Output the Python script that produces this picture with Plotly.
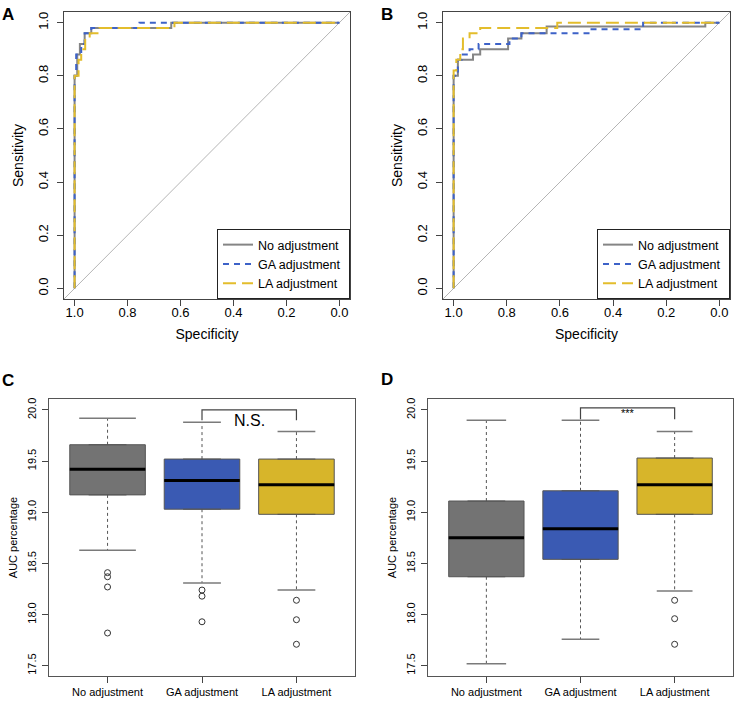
import plotly.graph_objects as go

FONT = "Liberation Sans, Arial, sans-serif"
W, H = 735, 701

methods = ["No adjustment", "GA adjustment", "LA adjustment"]

# ROC curve corners, panel A (specificity, sensitivity)
a_none_spec = [1.0, 1.0, 0.99, 0.99, 0.98, 0.98, 0.962, 0.962, 0.937, 0.937, 0.635, 0.635, 0.0]
a_none_sens = [0.0, 0.80, 0.80, 0.88, 0.88, 0.92, 0.92, 0.96, 0.96, 0.98, 0.98, 1.0, 1.0]
a_ga_spec = [1.0, 1.0, 0.994, 0.994, 0.975, 0.975, 0.962, 0.962, 0.937, 0.937, 0.755, 0.755, 0.0]
a_ga_sens = [0.0, 0.80, 0.80, 0.88, 0.88, 0.92, 0.92, 0.96, 0.96, 0.98, 0.98, 1.0, 1.0]
a_la_spec = [1.0, 1.0, 0.985, 0.985, 0.975, 0.975, 0.96, 0.96, 0.943, 0.943, 0.906, 0.906, 0.623, 0.623, 0.0]
a_la_sens = [0.0, 0.80, 0.80, 0.86, 0.86, 0.90, 0.90, 0.94, 0.94, 0.96, 0.96, 0.98, 0.98, 1.0, 1.0]

# ROC curve corners, panel B
b_none_spec = [1.0, 1.0, 0.984, 0.984, 0.927, 0.927, 0.90, 0.90, 0.795, 0.795, 0.745, 0.745, 0.65, 0.65, 0.053, 0.053, 0.0]
b_none_sens = [0.0, 0.80, 0.80, 0.86, 0.86, 0.88, 0.88, 0.90, 0.90, 0.94, 0.94, 0.96, 0.96, 0.985, 0.985, 1.0, 1.0]
b_ga_spec = [1.0, 1.0, 0.984, 0.984, 0.97, 0.97, 0.94, 0.94, 0.906, 0.906, 0.79, 0.79, 0.745, 0.745, 0.487, 0.487, 0.287, 0.287, 0.0]
b_ga_sens = [0.0, 0.80, 0.80, 0.86, 0.86, 0.88, 0.88, 0.90, 0.90, 0.92, 0.92, 0.94, 0.94, 0.96, 0.96, 0.975, 0.975, 1.0, 1.0]
b_la_spec = [1.0, 1.0, 0.99, 0.99, 0.975, 0.975, 0.965, 0.965, 0.94, 0.94, 0.90, 0.90, 0.61, 0.61, 0.0]
b_la_sens = [0.0, 0.82, 0.82, 0.86, 0.86, 0.90, 0.90, 0.94, 0.94, 0.96, 0.96, 0.98, 0.98, 1.0, 1.0]

roc_ticks = [0.0, 0.2, 0.4, 0.6, 0.8, 1.0]

# AUC percentage boxplots, panel C
c_q1 = [19.17, 19.03, 18.98]
c_med = [19.42, 19.31, 19.27]
c_q3 = [19.66, 19.52, 19.52]
c_lo = [18.63, 18.31, 18.24]
c_hi = [19.92, 19.88, 19.79]
c_out = [[18.41, 18.37, 18.27, 17.82], [18.24, 18.18, 17.93], [18.14, 17.95, 17.71]]

# panel D
d_q1 = [18.37, 18.54, 18.98]
d_med = [18.75, 18.84, 19.27]
d_q3 = [19.11, 19.21, 19.53]
d_lo = [17.52, 17.76, 18.23]
d_hi = [19.90, 19.90, 19.79]
d_out = [[], [], [18.14, 17.96, 17.71]]

auc_ticks = [17.5, 18.0, 18.5, 19.0, 19.5, 20.0]

roc_colors = ["#858585", "#3d62c8", "#e3bd2c"]
roc_dash = ["solid", "6px,5px", "13px,6px"]
box_colors = ["#737373", "#3a5ab3", "#d7b52a"]


def px_dom(a, b, total):
    return [a / total, b / total]


def py_dom(top, bottom):
    return [1 - bottom / H, 1 - top / H]


fig = go.Figure()

# ---- ROC panels ----
roc_sets = [
    ("x", "y", "legend", [(a_none_spec, a_none_sens), (a_ga_spec, a_ga_sens), (a_la_spec, a_la_sens)]),
    ("x2", "y2", "legend2", [(b_none_spec, b_none_sens), (b_ga_spec, b_ga_sens), (b_la_spec, b_la_sens)]),
]
for xa, ya, lg, curves in roc_sets:
    # chance diagonal
    fig.add_trace(go.Scatter(x=[1.04, -0.04], y=[-0.04, 1.04], mode="lines",
                             line=dict(color="#b5b5b5", width=1), xaxis=xa, yaxis=ya,
                             showlegend=False, hoverinfo="skip"))
    for i, (spec, sens) in enumerate(curves):
        # trailing nbsp gives the legend box a little right padding
        fig.add_trace(go.Scatter(x=spec, y=sens, mode="lines", name=methods[i] + "\u00a0",
                                 line=dict(color=roc_colors[i], width=2, dash=roc_dash[i]),
                                 xaxis=xa, yaxis=ya, legend=lg))


# ---- boxplot panels ----
def add_boxes(xa, ya, q1, med, q3, lo, hi, out, staple):
    for i in range(len(methods)):
        p = i + 1
        fig.add_trace(go.Box(x=[p], q1=[q1[i]], median=[med[i]], q3=[q3[i]],
                             lowerfence=[q1[i]], upperfence=[q3[i]], width=0.8,
                             fillcolor=box_colors[i], line=dict(color="#555555", width=1),
                             boxpoints=False, xaxis=xa, yaxis=ya, showlegend=False,
                             hoverinfo="skip"))
        fig.add_trace(go.Scatter(x=[p, p, None, p, p], y=[q3[i], hi[i], None, q1[i], lo[i]],
                                 mode="lines", line=dict(color="#555555", width=1, dash="3px,3px"),
                                 xaxis=xa, yaxis=ya, showlegend=False, hoverinfo="skip"))
        s = staple[i]
        fig.add_trace(go.Scatter(x=[p - s, p + s, None, p - s, p + s],
                                 y=[hi[i], hi[i], None, lo[i], lo[i]],
                                 mode="lines", line=dict(color="#7a7a7a", width=1.5),
                                 xaxis=xa, yaxis=ya, showlegend=False, hoverinfo="skip"))
        fig.add_trace(go.Scatter(x=[p - 0.4, p + 0.4], y=[med[i], med[i]], mode="lines",
                                 line=dict(color="black", width=3),
                                 xaxis=xa, yaxis=ya, showlegend=False, hoverinfo="skip"))
        if out[i]:
            fig.add_trace(go.Scatter(x=[p] * len(out[i]), y=out[i], mode="markers",
                                     marker=dict(symbol="circle-open", size=6, color="#333333",
                                                 line=dict(width=1)),
                                     xaxis=xa, yaxis=ya, showlegend=False, hoverinfo="skip"))


add_boxes("x3", "y3", c_q1, c_med, c_q3, c_lo, c_hi, c_out, [0.3, 0.2, 0.2])
add_boxes("x4", "y4", d_q1, d_med, d_q3, d_lo, d_hi, d_out, [0.21, 0.2, 0.19])

# significance brackets between GA and LA
c_bracket_y, c_bracket_end = 20.0, 19.9
d_bracket_y, d_bracket_end = 20.02, 19.91
fig.add_trace(go.Scatter(x=[2, 2, 3, 3], y=[c_bracket_end, c_bracket_y, c_bracket_y, c_bracket_end],
                         mode="lines", line=dict(color="#444444", width=1.2),
                         xaxis="x3", yaxis="y3", showlegend=False, hoverinfo="skip"))
fig.add_trace(go.Scatter(x=[2, 2, 3, 3], y=[d_bracket_end, d_bracket_y, d_bracket_y, d_bracket_end],
                         mode="lines", line=dict(color="#444444", width=1.2),
                         xaxis="x4", yaxis="y4", showlegend=False, hoverinfo="skip"))

axis_common = dict(showline=True, mirror=True, linecolor="#444444", linewidth=1,
                   ticks="outside", ticklen=6, tickcolor="#444444", showgrid=False,
                   zeroline=False, automargin=False)

roc_x = dict(axis_common, range=[1.04, -0.04], tickvals=roc_ticks,
             ticktext=[f"{t:.1f}" for t in roc_ticks], tickfont=dict(size=13),
             ticklabelstandoff=-5,
             title=dict(text="Specificity", font=dict(size=14), standoff=10))
roc_y = dict(axis_common, range=[-0.04, 1.04], tickvals=roc_ticks,
             ticktext=[f"{t:.1f}" for t in roc_ticks], tickfont=dict(size=13), tickangle=-90,
             ticklabelstandoff=4,
             title=dict(text="Sensitivity", font=dict(size=14), standoff=8))
box_x = dict(axis_common, range=[0.38, 3.62], tickvals=[1, 2, 3], ticktext=methods,
             tickfont=dict(size=11), linecolor="#555555")
box_y = dict(axis_common, range=[17.4, 20.107], tickvals=auc_ticks,
             ticktext=[f"{t:.1f}" for t in auc_ticks], tickfont=dict(size=11), tickangle=-90,
             linecolor="#555555", ticklabelstandoff=2,
             title=dict(text="AUC percentage", font=dict(size=11), standoff=5))

legend_style = dict(bgcolor="white", bordercolor="#222222", borderwidth=1,
                    font=dict(size=12.5, family=FONT, color="black"),
                    xanchor="right", yanchor="bottom", tracegroupgap=0)

fig.update_layout(
    width=W, height=H,
    margin=dict(l=0, r=0, t=0, b=0),
    paper_bgcolor="white", plot_bgcolor="white",
    font=dict(family=FONT, color="black"),
    xaxis=dict(roc_x, domain=px_dom(64, 350, W), anchor="y"),
    yaxis=dict(roc_y, domain=py_dom(12, 299), anchor="x"),
    xaxis2=dict(roc_x, domain=px_dom(443, 730, W), anchor="y2"),
    yaxis2=dict(roc_y, domain=py_dom(12, 299), anchor="x2"),
    xaxis3=dict(box_x, domain=px_dom(49, 355, W), anchor="y3"),
    yaxis3=dict(box_y, domain=py_dom(399, 676), anchor="x3"),
    xaxis4=dict(box_x, domain=px_dom(428, 733, W), anchor="y4"),
    yaxis4=dict(box_y, domain=py_dom(399, 676), anchor="x4"),
    legend=dict(legend_style, x=350 / W, y=1 - 299 / H),
    legend2=dict(legend_style, x=730 / W, y=1 - 299 / H),
    boxmode="overlay",
)

fig.add_annotation(x=2.5, y=19.9, xref="x3", yref="y3", text="N.S.", showarrow=False,
                   font=dict(size=16), yanchor="middle")
fig.add_annotation(x=2.5, y=19.975, xref="x4", yref="y4", text="***", showarrow=False,
                   font=dict(size=11), yanchor="middle")

for letter, lx, ly in [("A", 0, 3), ("B", 379, 3), ("C", 0, 369), ("D", 379, 368)]:
    fig.add_annotation(x=lx / W, y=1 - ly / H, xref="paper", yref="paper", text=f"<b>{letter}</b>",
                       showarrow=False, xanchor="left", yanchor="top", font=dict(size=17))

# drop the browser's default 8px body margin so the figure sits at the page corner
fig.write_html("out.html", config={"displayModeBar": False},
               post_script="document.body.style.margin='0';")
